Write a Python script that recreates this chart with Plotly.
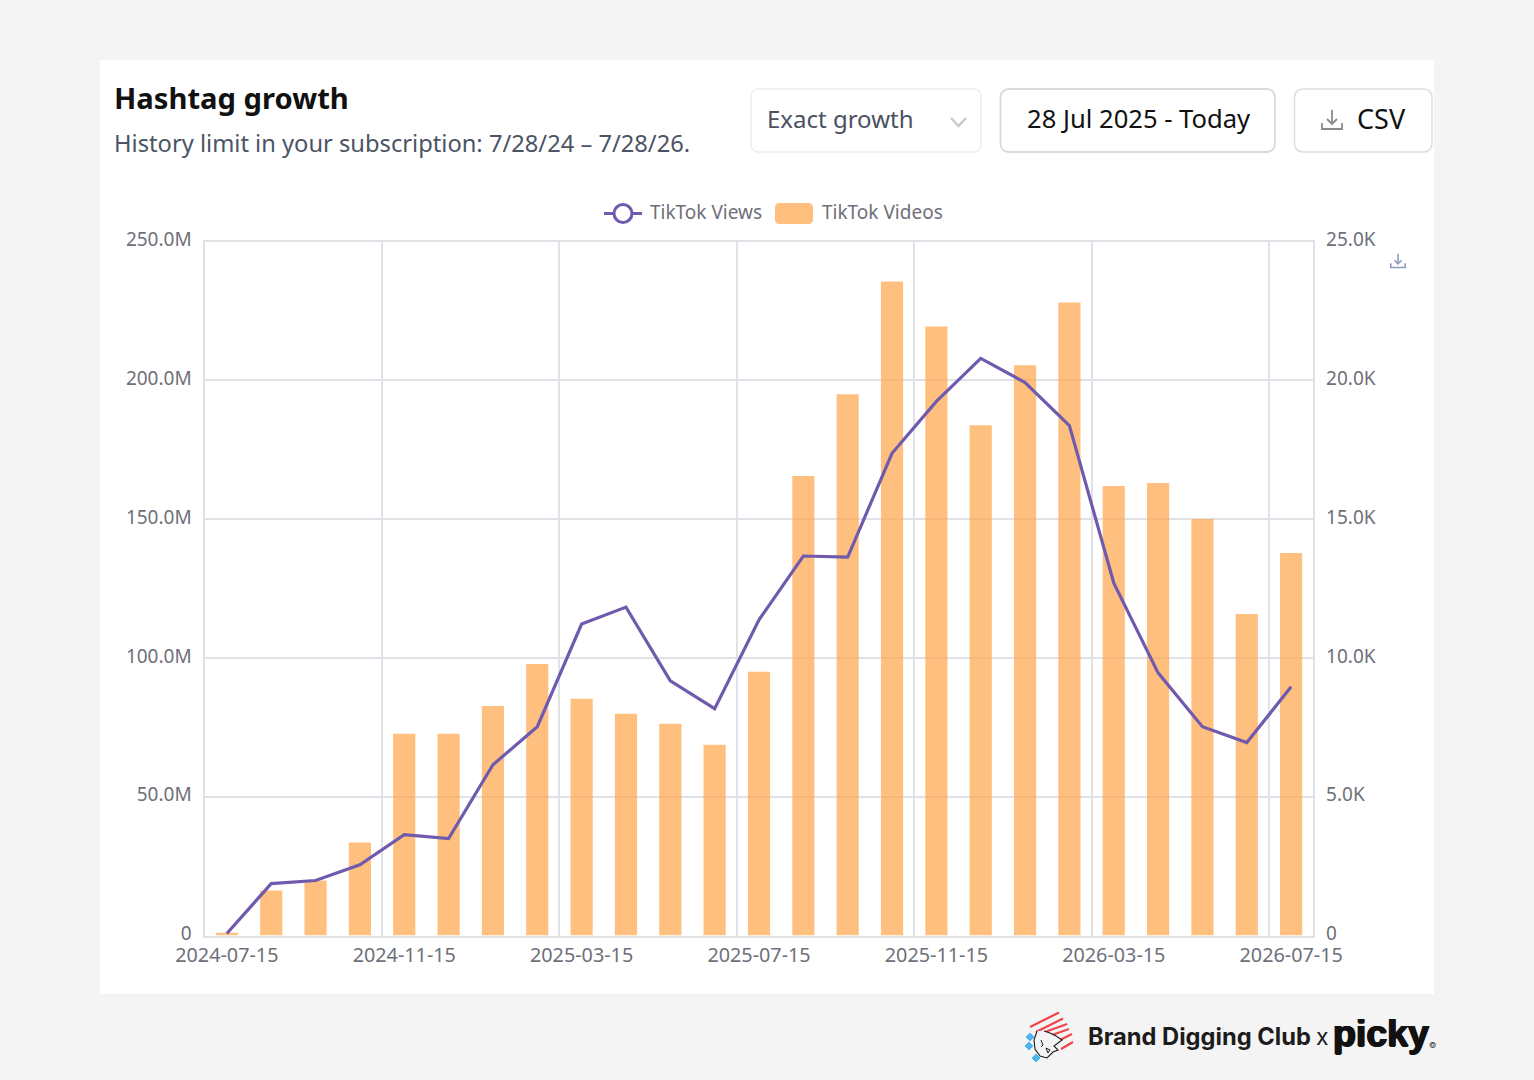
import plotly.graph_objects as go

W, H = 1534, 1080

months = ["2024-07-15","2024-08-15","2024-09-15","2024-10-15","2024-11-15","2024-12-15","2025-01-15","2025-02-15",
          "2025-03-15","2025-04-15","2025-05-15","2025-06-15","2025-07-15","2025-08-15","2025-09-15","2025-10-15",
          "2025-11-15","2025-12-15","2026-01-15","2026-02-15","2026-03-15","2026-04-15","2026-05-15","2026-06-15","2026-07-15"]
tiktok_views = [0.7e6,18.7e6,19.8e6,25.5e6,36.3e6,34.9e6,61.5e6,75.2e6,112.2e6,118.3e6,91.7e6,81.7e6,113.7e6,
                136.7e6,136.3e6,173.7e6,192.4e6,207.9e6,199.2e6,183.7e6,127e6,94.6e6,75.2e6,69.5e6,89.6e6]
tiktok_videos = [100,1620,1980,3350,7270,7270,8270,9780,8530,7990,7630,6870,9500,
                 16550,19500,23560,21940,18380,20540,22800,16190,16300,15000,11580,13780]
left_ticks = [0,50e6,100e6,150e6,200e6,250e6]
left_labels = ["0","50.0M","100.0M","150.0M","200.0M","250.0M"]
right_ticks = [0,5000,10000,15000,20000,25000]
right_labels = ["0","5.0K","10.0K","15.0K","20.0K","25.0K"]

UI = "Noto Sans"
PURPLE = "#6F5AAE"
GRID = "#E1E2E8"
TICK = "#6E7079"

def px(x): return x / W
def py(y): return 1 - y / H

def path(points, close=False):
    s = "M" + " L".join(f"{px(x):.5f},{py(y):.5f}" for x, y in points)
    return s + (" Z" if close else "")

def rrect(x0, y0, x1, y1, r):
    k = r * 0.45
    c = lambda x, y: f"{px(x):.5f},{py(y):.5f}"
    return (f"M{c(x0+r,y0)} L{c(x1-r,y0)} C{c(x1-k,y0)} {c(x1,y0+k)} {c(x1,y0+r)} L{c(x1,y1-r)} "
            f"C{c(x1,y1-k)} {c(x1-k,y1)} {c(x1-r,y1)} L{c(x0+r,y1)} C{c(x0+k,y1)} {c(x0,y1-k)} {c(x0,y1-r)} "
            f"L{c(x0,y0+r)} C{c(x0,y0+k)} {c(x0+k,y0)} {c(x0+r,y0)} Z")

shapes, annos = [], []

def shp(d, line=None, width=1, fill=None, layer="above"):
    shapes.append(dict(type="path", path=d, xref="paper", yref="paper", layer=layer,
                       line=dict(color=line or "rgba(0,0,0,0)", width=width if line else 0),
                       fillcolor=fill or "rgba(0,0,0,0)"))

def txt(x, y, s, size, color, anchor="left", family=UI, weight=400, shadow=None):
    font = dict(size=size, color=color, family=family, weight=weight)
    if shadow:
        font["shadow"] = shadow
    annos.append(dict(x=px(x), y=py(y), xref="paper", yref="paper", text=s, showarrow=False,
                      xanchor=anchor, yanchor="middle", align=anchor, borderpad=0, font=font))

def dl_icon(cx, cy, s, color, w):
    shp(path([(cx, cy-10*s), (cx, cy+4*s)]), color, w)
    shp(path([(cx-5*s, cy-1*s), (cx, cy+4*s), (cx+5*s, cy-1*s)]), color, w)
    shp(path([(cx-10*s, cy+3*s), (cx-10*s, cy+9*s), (cx+10*s, cy+9*s), (cx+10*s, cy+3*s)]), color, w)

# card
shp(path([(100,60),(1434,60),(1434,994),(100,994)], True), fill="#FFFFFF", layer="below")

# header
txt(113, 98.5, "Hashtag growth", 29.2, "#111111", weight=700)
txt(113, 143, "History limit in your subscription: 7/28/24 – 7/28/26.", 23.7, "#4A5464")

# controls
shp(rrect(751, 89, 981, 152, 7), "#EDEDED", 1.5, "#FFFFFF")
txt(766, 118.5, "Exact growth", 24, "#4A5160")
shp(path([(951,118),(958.5,126),(966,118)]), "#C9C9C9", 2.5)
shp(rrect(1000.5, 89, 1275, 152, 8), "#D9D9D9", 1.8, "#FFFFFF")
txt(1026, 119, "28 Jul 2025 - Today", 25.6, "#111111")
shp(rrect(1294.5, 89, 1432, 152, 8), "#DEDEDE", 1.5, "#FFFFFF")
dl_icon(1332, 120, 1, "#8A8A8A", 1.8)
txt(1356, 119, "CSV", 27, "#111111")

# legend
shp(path([(604,213.5),(642,213.5)]), PURPLE, 3)
shapes.append(dict(type="circle", xref="paper", yref="paper", x0=px(614), x1=px(632), y0=py(222.5), y1=py(204.5),
                   line=dict(color=PURPLE, width=3), fillcolor="#FFFFFF"))
txt(649, 212, "TikTok Views", 19, TICK)
shp(rrect(775, 203, 813, 224, 4), fill="#FFC07F")
txt(821, 212, "TikTok Videos", 19, TICK)

# chart save icon
dl_icon(1398, 261, 0.72, "#8E9DBE", 1.6)

# footer logo
for a, b in [((1030,1027),(1059,1012.5)), ((1036,1032),(1063,1018.5)), ((1045,1032),(1067,1024)),
             ((1052,1035),(1069,1029)), ((1058,1041),(1072,1034)), ((1061,1049),(1073,1042))]:
    shp(path([a, b]), "#F0454B", 2.2)
shp(path([(1037,1031),(1034,1040),(1035,1049),(1040,1056),(1047,1058),(1053,1052),(1058,1050),(1054,1046),
          (1062,1040),(1056,1036),(1050,1033),(1044,1031)]), "#1A1A1A", 1.1, "#F4F4F4")
shp(path([(1041,1040),(1043,1045),(1041,1047)]), "#1A1A1A", 1)
shp(path([(1046,1048),(1050,1050),(1048,1053),(1046,1048)]), "#1A1A1A", 1)
for cx, cy in [(1030,1037),(1029,1046),(1036,1058)]:
    shp(path([(cx-4,cy),(cx,cy-4),(cx+4,cy),(cx,cy+4)], True), "#4DB6F0", 1, "#4DB6F0")
txt(1087, 1036, "Brand Digging Club", 23.7, "#1C1C1C", family="Inter", weight=700)
txt(1315, 1037, "x", 23, "#1C1C1C", family="Inter", weight=400)
txt(1332, 1033, "picky", 37.5, "#111111", family="Liberation Sans", weight=700,
    shadow="0.9px 0 0 #111111, -0.9px 0 0 #111111, 0 0.6px 0 #111111")
txt(1428, 1045, "©", 8, "#333333", family="Inter")

fig = go.Figure()
fig.add_trace(go.Bar(x=months, y=tiktok_videos, name="TikTok Videos", width=0.5, yaxis="y",
                     marker=dict(color="rgba(255,165,72,0.7)", line=dict(width=0))))
fig.add_trace(go.Scatter(x=months, y=tiktok_views, name="TikTok Views", mode="lines", yaxis="y2",
                         line=dict(color=PURPLE, width=3.2)))

yfont = dict(family=UI, size=19, color=TICK)
xfont = dict(family=UI, size=19.8, color=TICK)
y_domain = [py(935.5), py(241.5)]
fig.update_layout(
    width=W, height=H, autosize=False, showlegend=False,
    margin=dict(l=0, r=0, t=0, b=0, autoexpand=False), paper_bgcolor="#F4F4F4", plot_bgcolor="#FFFFFF",
    shapes=shapes, annotations=annos,
    xaxis=dict(type="category", domain=[px(204.7), px(1313.3)], range=[-0.5, 24.5],
               tickson="boundaries", tickmode="linear", tick0=0, dtick=4, ticks="", showgrid=True,
               gridcolor=GRID, gridwidth=2, showline=True, linecolor=GRID, linewidth=2, mirror=True,
               tickfont=xfont, ticklabelstandoff=1, tickangle=0, zeroline=False, automargin=False),
    yaxis=dict(domain=y_domain, range=[0, 25000], side="right", tickmode="array",
               tickvals=right_ticks, ticktext=right_labels, showgrid=True, gridcolor=GRID, gridwidth=2,
               tickfont=yfont, ticklabelstandoff=7, ticklabelshift=-2, zeroline=False, showline=True, linecolor=GRID,
               linewidth=2, mirror=True, automargin=False),
    yaxis2=dict(domain=y_domain, range=[0, 250e6], side="left", overlaying="y", anchor="x",
                tickmode="array", tickvals=left_ticks, ticktext=left_labels, showgrid=False,
                tickfont=yfont, ticklabelstandoff=12, ticklabelshift=-2, zeroline=False, showline=False, automargin=False),
    bargap=0.5,
)
fig.write_html("out.html", config={"displayModeBar": False},
               post_script="document.body.style.margin='0';document.body.style.background='#F4F4F4';document.body.style.overflow='hidden';")
